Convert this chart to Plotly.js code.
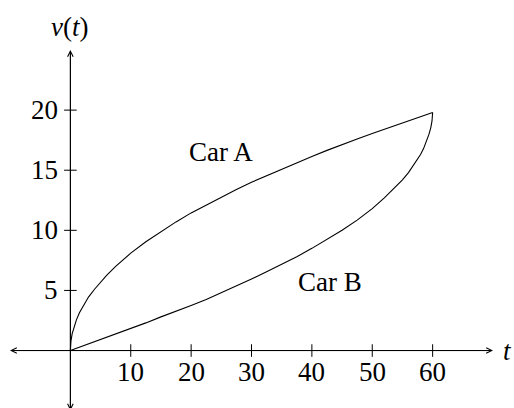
<!DOCTYPE html>
<html>
<head>
<meta charset="utf-8">
<script src="https://cdn.plot.ly/plotly-3.0.1.min.js"></script>
<style>
  body { margin: 0; background: #fff; }
  #grafikoa { width: 514px; height: 408px; }
</style>
</head>
<body>
<div id="grafikoa"></div>
<script>
// Car A (irudian irakurritako balioak)
let tA = [0, 0.1, 0.3, 0.6, 1, 1.5, 2, 3, 4, 5, 6, 7.5, 9, 10, 12.5, 15, 17.5, 20, 22.5, 25,
          27.5, 30, 32.5, 35, 37.5, 40, 42.5, 45, 47.5, 50, 52.5, 55, 57.5, 60]
let vA = [0, 0.8, 1.4, 2.0, 2.55, 3.15, 3.6, 4.45, 5.1, 5.7, 6.25, 7.0, 7.65, 8.1, 9.05, 9.9, 10.7, 11.45, 12.1, 12.8,
          13.4, 14.0, 14.55, 15.1, 15.65, 16.15, 16.65, 17.15, 17.6, 18.05, 18.5, 18.95, 19.4, 19.8]

// Car B
let tB = [0, 2.5, 5, 7.5, 10, 12.5, 15, 17.5, 20, 22.5, 25, 27.5, 30, 32.5, 35, 37.5, 40, 42.5, 45,
          47.5, 50, 52, 54, 55, 56, 57, 58, 58.5, 59, 59.4, 59.7, 59.9, 60]
let vB = [0, 0.45, 0.9, 1.35, 1.85, 2.3, 2.8, 3.25, 3.75, 4.25, 4.8, 5.35, 5.95, 6.55, 7.15, 7.8, 8.5, 9.25, 10.0,
          10.85, 11.8, 12.7, 13.65, 14.2, 14.8, 15.5, 16.3, 16.8, 17.4, 18.0, 18.55, 19.1, 19.8]

// Ardatzen marrak eta etiketak
let xTicks = [10, 20, 30, 40, 50, 60]
let xTickLabels = ["10", "20", "30", "40", "50", "60"]
let yTicks = [5, 10, 15, 20]
let yTickLabels = ["5", "10", "15", "20"]

// Ardatzen luzera (geziak)
let xRange = [-10, 70]
let yRange = [-5, 25]

let font = {family: "Liberation Serif, serif", size: 27, color: "black"}

window.onload = function(){
    plot()
}

function plot(){
    let grafikoa = document.getElementById("grafikoa")

    let data = [
        {x: tA, y: vA, mode: "lines", line: {color: "black", width: 1.1}, hoverinfo: "skip"},
        {x: tB, y: vB, mode: "lines", line: {color: "black", width: 1.1}, hoverinfo: "skip"},
        // marra txikiak ardatzaren bi aldeetara
        {x: xTicks, y: xTicks.map(() => 0), mode: "markers", hoverinfo: "skip",
         marker: {symbol: "line-ns-open", size: 9, color: "black", line: {color: "black", width: 1}}},
        {x: yTicks.map(() => 0), y: yTicks, mode: "markers", hoverinfo: "skip",
         marker: {symbol: "line-ew-open", size: 9, color: "black", line: {color: "black", width: 1}}}
    ]

    let annotations = []

    // ardatzak geziekin
    let arrow = {text: "", showarrow: true, arrowhead: 5, arrowsize: 1.1, arrowwidth: 1, arrowcolor: "black",
                 xref: "x", yref: "y", axref: "x", ayref: "y"}
    annotations.push(Object.assign({}, arrow, {x: xRange[1], y: 0, ax: xRange[0], ay: 0}))
    annotations.push(Object.assign({}, arrow, {x: xRange[0], y: 0, ax: xRange[1], ay: 0}))
    annotations.push(Object.assign({}, arrow, {x: 0, y: yRange[1], ax: 0, ay: yRange[0]}))
    annotations.push(Object.assign({}, arrow, {x: 0, y: yRange[0], ax: 0, ay: yRange[1]}))

    for (let i = 0; i < xTicks.length; i++){
        annotations.push({x: xTicks[i], y: 0, text: xTickLabels[i], showarrow: false, font: font,
                          xanchor: "center", yanchor: "middle", yshift: -21})
    }
    for (let i = 0; i < yTicks.length; i++){
        annotations.push({x: 0, y: yTicks[i], text: yTickLabels[i], showarrow: false, font: font,
                          xanchor: "right", yanchor: "middle", xshift: -10})
    }

    annotations.push({x: 25, y: 16.5, text: "Car A", showarrow: false, font: font})
    annotations.push({x: 43, y: 5.7, text: "Car B", showarrow: false, font: font})
    // v(t) grafikoaren gainean (paper koordenatuetan, bestela ez da agertzen)
    annotations.push({x: 0, xref: "x", y: 1, yref: "paper", yanchor: "middle", yshift: 23,
                      text: "<i>v</i>(<i>t</i>)", showarrow: false, font: font})
    annotations.push({x: xRange[1], y: 0, text: "<i>t</i>", showarrow: false, font: font,
                      xanchor: "left", xshift: 8})

    let layout = {
        width: 514,
        height: 408,
        margin: {l: 10, r: 21, t: 50, b: 0},
        showlegend: false,
        paper_bgcolor: "white",
        plot_bgcolor: "white",
        xaxis: {range: [-10, 70], visible: false, fixedrange: true},
        yaxis: {range: [-4.78, 25], visible: false, fixedrange: true},
        annotations: annotations
    }

    Plotly.newPlot(grafikoa, data, layout, {staticPlot: true});
}
</script>
</body>
</html>
